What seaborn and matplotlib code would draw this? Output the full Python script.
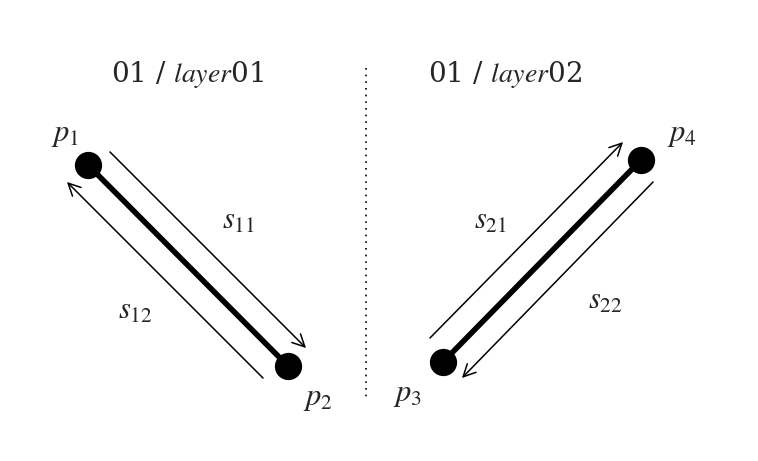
import matplotlib
matplotlib.use("Agg")
import matplotlib.pyplot as plt
import seaborn as sns
import pandas as pd

sns.set_theme(style="white")
plt.rcParams['font.family'] = ['DejaVu Serif']
plt.rcParams['mathtext.fontset'] = 'stix'

# Data: point names and positions (diagram units)
point_names = ["p_1", "p_2", "p_3", "p_4"]
point_x = [88, 288, 443, 641]
point_y = [165, 366, 362, 160]
label_x = [65, 318, 407, 682]
label_y = [133, 397, 393, 133]
segments = [(0, 1), (2, 3)]
arrow_names = ["s_{11}", "s_{12}", "s_{21}", "s_{22}"]
arrow_start = [(108, 150), (265, 380), (428, 340), (655, 180)]
arrow_end = [(308, 350), (65, 180), (625, 140), (460, 380)]
arrow_lab = [(238, 220), (135, 310), (490, 220), (605, 300)]
titles = ["01 / $\\mathit{layer}$01", "01 / $\\mathit{layer}$02"]
title_x = [187, 505]

fig = plt.figure(figsize=(7.58, 4.61), dpi=100)
ax = fig.add_axes([0, 0, 1, 1])
ax.set_xlim(0, 758)
ax.set_ylim(461, 0)
ax.axis("off")

for a, b in segments:
    ax.plot([point_x[a], point_x[b]], [point_y[a], point_y[b]], color="black", lw=4, zorder=2)
df = pd.DataFrame({"x": point_x, "y": point_y})
sns.scatterplot(data=df, x="x", y="y", s=330, color="black", edgecolor="black", ax=ax, zorder=3, legend=False)
ax.set_xlim(0, 758); ax.set_ylim(461, 0); ax.axis("off")

for n, lx, ly in zip(point_names, label_x, label_y):
    ax.text(lx, ly, f"${n}$", fontsize=22, ha="center", va="center")

for n, s, e, l in zip(arrow_names, arrow_start, arrow_end, arrow_lab):
    ax.annotate("", xy=e, xytext=s,
                arrowprops=dict(arrowstyle="->", lw=1.1, color="black", mutation_scale=22))
    ax.text(l[0], l[1], f"${n}$", fontsize=22, ha="center", va="center")

ax.plot([366, 366], [68, 400], color="black", lw=1.2, ls=(0, (1, 3)))

for t, tx in zip(titles, title_x):
    ax.text(tx, 75, t, fontsize=20, ha="center", va="center", family="DejaVu Serif")

fig.savefig("out.png", dpi=100)
